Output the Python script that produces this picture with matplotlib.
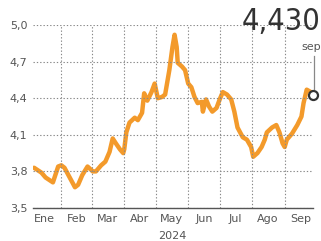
import matplotlib
matplotlib.use("Agg")
import matplotlib.pyplot as plt
import matplotlib.dates as mdates
import pandas as pd
from matplotlib import font_manager

# 데이터
dates = ["2024-01-06", "2024-01-13", "2024-01-17", "2024-01-24", "2024-01-29",
         "2024-02-01", "2024-02-04", "2024-02-09", "2024-02-14", "2024-02-17",
         "2024-02-21", "2024-02-26", "2024-03-02", "2024-03-05", "2024-03-10",
         "2024-03-14", "2024-03-18", "2024-03-21", "2024-03-24", "2024-03-28",
         "2024-03-31", "2024-04-01", "2024-04-03", "2024-04-06", "2024-04-11",
         "2024-04-14", "2024-04-18", "2024-04-20", "2024-04-23", "2024-04-27",
         "2024-04-30", "2024-05-03", "2024-05-07", "2024-05-10", "2024-05-14",
         "2024-05-17", "2024-05-19", "2024-05-21", "2024-05-22", "2024-05-26",
         "2024-05-29", "2024-06-01", "2024-06-04", "2024-06-07", "2024-06-10",
         "2024-06-14", "2024-06-15", "2024-06-18", "2024-06-21", "2024-06-24",
         "2024-06-28", "2024-07-01", "2024-07-04", "2024-07-08", "2024-07-12",
         "2024-07-15", "2024-07-18", "2024-07-23", "2024-07-27", "2024-07-31",
         "2024-08-02", "2024-08-06", "2024-08-10", "2024-08-13", "2024-08-15",
         "2024-08-20", "2024-08-24", "2024-08-27", "2024-08-30", "2024-09-01",
         "2024-09-03", "2024-09-08", "2024-09-13", "2024-09-17", "2024-09-19",
         "2024-09-22", "2024-09-26", "2024-09-28"]
values = [3.83, 3.79, 3.75, 3.71, 3.84,
          3.85, 3.83, 3.75, 3.67, 3.69,
          3.77, 3.84, 3.80, 3.80, 3.85,
          3.88, 3.96, 4.07, 4.03, 3.98,
          3.95, 3.98, 4.12, 4.20, 4.24,
          4.22, 4.28, 4.44, 4.38, 4.45,
          4.52, 4.40, 4.41, 4.43, 4.63,
          4.82, 4.92, 4.82, 4.69, 4.66,
          4.63, 4.52, 4.49, 4.41, 4.36,
          4.37, 4.29, 4.39, 4.33, 4.29,
          4.32, 4.39, 4.45, 4.43, 4.39,
          4.29, 4.16, 4.08, 4.06, 4.00,
          3.92, 3.95, 4.00, 4.06, 4.12,
          4.16, 4.18, 4.12, 4.03, 4.00,
          4.06, 4.11, 4.18, 4.25, 4.36,
          4.47, 4.45, 4.43]
y_ticks = [3.5, 3.8, 4.1, 4.4, 4.7, 5.0]
y_labels = ["3,5", "3,8", "4,1", "4,4", "4,7", "5,0"]
month_labels = ["Ene", "Feb", "Mar", "Abr", "May", "Jun", "Jul", "Ago", "Sep"]
last_label = "4,430"
last_month = "sep"

x = pd.to_datetime(dates)

# 큰 숫자는 좁은 글꼴이 있으면 사용 (기울임꼴 제외)
narrow = None
for f in font_manager.fontManager.ttflist:
    if f.style != "normal":
        continue
    if f.weight not in ("normal", "regular", 400, "book"):
        continue
    if ("Narrow" in f.name or "Condensed" in f.name
            or f.stretch in ("condensed", "semi-condensed", "extra-condensed")):
        narrow = f.fname
        break
if narrow:
    big_prop = font_manager.FontProperties(fname=narrow, size=22)
else:
    big_prop = font_manager.FontProperties(family=["Roboto", "DejaVu Sans"], size=20)

fig = plt.figure(figsize=(3.21, 2.41), dpi=100)
ax = fig.add_axes([33 / 321, 1 - 208 / 241, 280 / 321, 183 / 241])

ax.plot(x, values, color="#f39a2b", lw=3.2, solid_capstyle="round",
        solid_joinstyle="round", zorder=2)
ax.plot(x[-1], values[-1], "o", ms=6.5, mfc="white", mec="#333333", mew=1.6,
        zorder=5, clip_on=False)

ax.set_xlim(pd.Timestamp("2024-01-05"), x[-1])
ax.set_ylim(3.5, 5.0)

ax.set_yticks(y_ticks)
ax.set_yticklabels(y_labels)
ax.xaxis.set_major_locator(mdates.MonthLocator(bymonth=range(2, 10)))
ax.xaxis.set_major_formatter(plt.NullFormatter())
ax.set_xticks(pd.to_datetime([f"2024-{m:02d}-16" for m in range(1, 10)]), minor=True)
ax.set_xticklabels(month_labels, minor=True)
ax.tick_params(which="both", length=0, labelsize=8, labelcolor="#555555")
ax.tick_params(axis="y", pad=4)
ax.tick_params(axis="x", which="minor", pad=4)

ax.grid(True, which="major", color="#888888", lw=0.8, ls=(0, (1.2, 1.8)), zorder=3)
ax.set_axisbelow(False)
for s in ["top", "right", "left"]:
    ax.spines[s].set_visible(False)
ax.spines["bottom"].set_color("#555555")
ax.spines["bottom"].set_linewidth(1.0)
ax.spines["bottom"].set_zorder(4)

fig.text(172 / 321, 1 - 236 / 241, "2024", ha="center", va="center",
         fontsize=8, color="#555555")
fig.text(321 / 321, 1 - 22 / 241, last_label, ha="right", va="center",
         color="#333333", fontproperties=big_prop)
fig.text(321 / 321, 1 - 47 / 241, last_month, ha="right", va="center",
         fontsize=8, color="#555555")
fig.add_artist(plt.Line2D([314 / 321, 314 / 321], [1 - 56 / 241, 1 - 89 / 241],
                          color="#888888", lw=0.9))

fig.savefig("out.png", dpi=100)
